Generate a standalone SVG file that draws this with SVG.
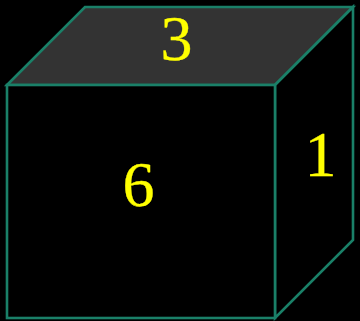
<svg xmlns="http://www.w3.org/2000/svg" width="360" height="321" viewBox="0 0 360 321">
<style>
.f{stroke:#1a8068;stroke-width:2.6;stroke-linejoin:miter}
.t{font-family:"Liberation Serif",serif;font-size:64px;fill:#ffff00;stroke:#ffff00;stroke-width:0.3;text-anchor:middle}
</style>
<rect width="360" height="321" fill="#000"/>
<g id="top"><polygon class="f" fill="#333333" points="7,85 85,7 353,7 275,85"/><text class="t" x="176.500" y="59.500">3</text></g>
<g id="side"><polygon class="f" fill="#000" points="275,85 353,7 353,240 275,318"/><text class="t" x="320.500" y="176">1</text></g>
<g id="front"><rect class="f" fill="#000" x="7" y="85" width="268" height="233"/><text class="t" x="138.500" y="205.500">6</text></g>
</svg>
